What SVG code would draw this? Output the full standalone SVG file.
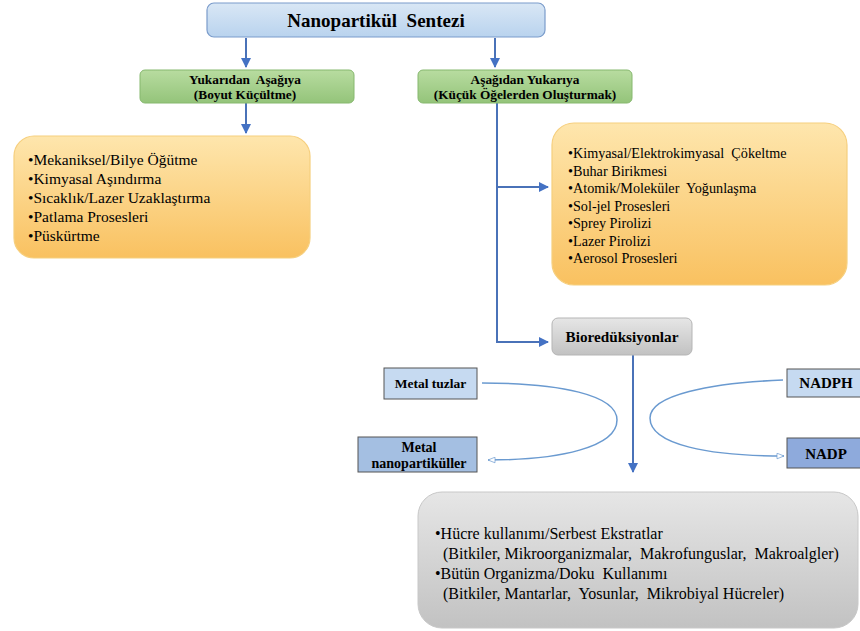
<svg xmlns="http://www.w3.org/2000/svg" width="860" height="631" viewBox="0 0 860 631">
<defs>
<linearGradient id="gBlue" x1="0" y1="0" x2="0" y2="1"><stop offset="0" stop-color="#d9e7f5"/><stop offset="1" stop-color="#b9d3ee"/></linearGradient>
<linearGradient id="gGreen" x1="0" y1="0" x2="0" y2="1"><stop offset="0" stop-color="#b8dca0"/><stop offset="1" stop-color="#94c47a"/></linearGradient>
<linearGradient id="gOrange" x1="0" y1="0" x2="0" y2="1"><stop offset="0" stop-color="#fee6ad"/><stop offset="1" stop-color="#f9c160"/></linearGradient>
<linearGradient id="gGray" x1="0" y1="0" x2="0" y2="1"><stop offset="0" stop-color="#e6e6e6"/><stop offset="1" stop-color="#c2c2c2"/></linearGradient>
<marker id="ah" viewBox="0 0 10 10" refX="9" refY="5" markerWidth="5" markerHeight="5" orient="auto"><path d="M0,0 L10,5 L0,10 z" fill="#4472c4"/></marker>
<marker id="oh" viewBox="0 0 12 10" refX="11" refY="5" markerWidth="9" markerHeight="7" orient="auto" markerUnits="userSpaceOnUse"><path d="M1,1 L11,5 L1,9 z" fill="#ffffff" stroke="#6a9ad0" stroke-width="1"/></marker>
</defs>
<style>
.t{font-family:'Liberation Serif','Times New Roman',Times,'Noto Serif','DejaVu Serif',serif;fill:#000}
.b{font-weight:bold}
.c{stroke:#4a72b8;stroke-width:2;fill:none}
.cv{stroke:#6a9ad0;stroke-width:1.5;fill:none}
.sm{stroke:#555;stroke-width:1}
</style>
<rect width="860" height="631" fill="#ffffff"/>

<g id="connectors">
<path class="c" d="M246,38 V67" marker-end="url(#ah)"/>
<path class="c" d="M495,38 V67" marker-end="url(#ah)"/>
<path class="c" d="M246,103 V133" marker-end="url(#ah)"/>
<path class="c" d="M497,103 V342 H548" marker-end="url(#ah)"/>
<path class="c" d="M497,187 H548" marker-end="url(#ah)"/>
<path class="c" d="M633,355 V472" marker-end="url(#ah)"/>
<path class="cv" d="M482,383 C560,383 617,395 617,420 C617,447 560,460 488,460" marker-end="url(#oh)"/>
<path class="cv" d="M783,380 C710,383 650,395 650,418 C650,445 710,456 784,456" marker-end="url(#oh)"/>
</g>

<g id="title">
<rect x="207" y="3" width="338" height="34" rx="7" fill="url(#gBlue)" stroke="#7b9ccb" stroke-width="1.2"/>
<text class="t b" x="376" y="27" font-size="19" text-anchor="middle" xml:space="preserve">Nanopartikül  Sentezi</text>
</g>

<g id="topdown">
<rect x="140" y="70" width="214" height="33" rx="5" fill="url(#gGreen)" stroke="#86b86e" stroke-width="1"/>
<text class="t b" x="245" y="84" font-size="13.3" text-anchor="middle" xml:space="preserve">Yukarıdan  Aşağıya</text>
<text class="t b" x="245" y="99" font-size="13.3" text-anchor="middle">(Boyut Küçültme)</text>
</g>

<g id="bottomup">
<rect x="418" y="70" width="214" height="33" rx="5" fill="url(#gGreen)" stroke="#86b86e" stroke-width="1"/>
<text class="t b" x="525" y="84" font-size="13.3" text-anchor="middle">Aşağıdan Yukarıya</text>
<text class="t b" x="525" y="99" font-size="13.3" text-anchor="middle">(Küçük Öğelerden Oluşturmak)</text>
</g>

<g id="topdown-list">
<rect x="14" y="136" width="296" height="122" rx="20" fill="url(#gOrange)" stroke="#f6cf7e" stroke-width="1.2"/>
<text class="t" font-size="15.5">
<tspan x="28" y="165">•Mekaniksel/Bilye Öğütme</tspan>
<tspan x="28" y="184">•Kimyasal Aşındırma</tspan>
<tspan x="28" y="203">•Sıcaklık/Lazer Uzaklaştırma</tspan>
<tspan x="28" y="222">•Patlama Prosesleri</tspan>
<tspan x="28" y="241">•Püskürtme</tspan>
</text>
</g>

<g id="bottomup-list">
<rect x="552" y="123" width="295" height="162" rx="22" fill="url(#gOrange)" stroke="#f6cf7e" stroke-width="1.2"/>
<text class="t" font-size="14.2" xml:space="preserve"><tspan x="568" y="158">•Kimyasal/Elektrokimyasal  Çökeltme</tspan><tspan x="568" y="175.5">•Buhar Birikmesi</tspan><tspan x="568" y="193">•Atomik/Moleküler  Yoğunlaşma</tspan><tspan x="568" y="210.5">•Sol-jel Prosesleri</tspan><tspan x="568" y="228">•Sprey Pirolizi</tspan><tspan x="568" y="245.5">•Lazer Pirolizi</tspan><tspan x="568" y="263">•Aerosol Prosesleri</tspan></text>
</g>

<g id="bioreduction">
<rect x="552" y="318" width="140" height="37" rx="6" fill="url(#gGray)" stroke="#b5b5b5" stroke-width="1"/>
<text class="t b" x="622" y="342" font-size="15.2" text-anchor="middle">Bioredüksiyonlar</text>
</g>

<g id="metal-salts">
<rect x="384" y="368" width="93" height="31" fill="#c6daf1" class="sm"/>
<text class="t b" x="430.5" y="388" font-size="13.5" text-anchor="middle">Metal tuzlar</text>
</g>

<g id="metal-np">
<rect x="358" y="437" width="119" height="35" fill="#a4bfe2" class="sm"/>
<text class="t b" x="419" y="452" font-size="14" text-anchor="middle">Metal</text>
<text class="t b" x="419" y="468" font-size="14" text-anchor="middle">nanopartiküller</text>
</g>

<g id="nadph">
<rect x="787" y="369" width="80" height="28" fill="#c6daf1" class="sm"/>
<text class="t b" x="826" y="388" font-size="15" text-anchor="middle">NADPH</text>
</g>

<g id="nadp">
<rect x="787" y="438" width="80" height="30" fill="#8eaadc" class="sm"/>
<text class="t b" x="826" y="459" font-size="15" text-anchor="middle">NADP</text>
</g>

<g id="sources">
<rect x="418" y="492" width="440" height="136" rx="24" fill="url(#gGray)" stroke="#c8c8c8" stroke-width="1"/>
<text class="t" font-size="16" xml:space="preserve"><tspan x="435" y="539">•Hücre kullanımı/Serbest Ekstratlar</tspan><tspan x="443" y="559">(Bitkiler, Mikroorganizmalar,  Makrofunguslar,  Makroalgler)</tspan><tspan x="435" y="579">•Bütün Organizma/Doku  Kullanımı</tspan><tspan x="443" y="599">(Bitkiler, Mantarlar,  Yosunlar,  Mikrobiyal Hücreler)</tspan></text>
</g>
</svg>
